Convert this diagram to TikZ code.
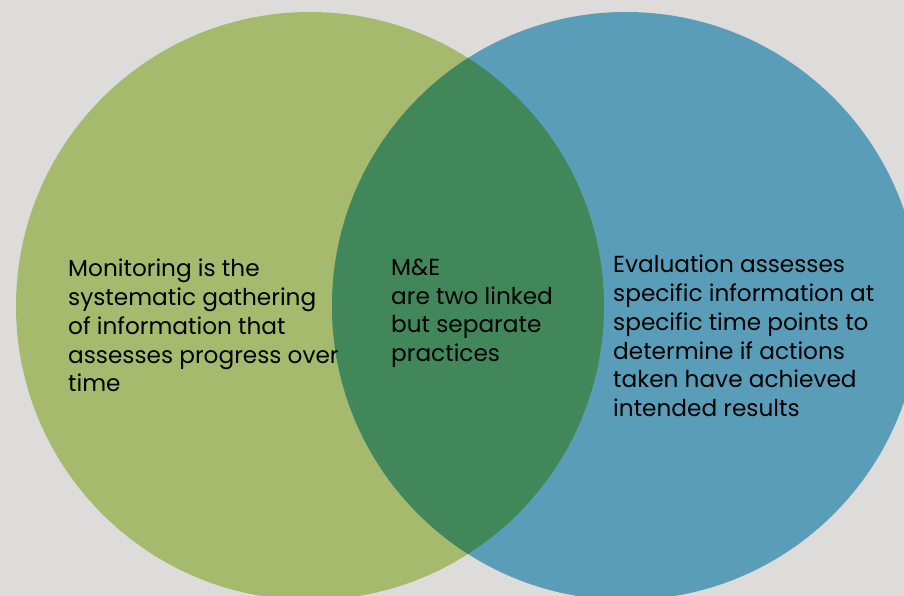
\documentclass[tikz,border=0pt]{standalone}
\usepackage{fontspec}
\setmainfont{Poppins}
\definecolor{bg}{HTML}{DDDCDA}
\definecolor{lgreen}{HTML}{A6BA6D}
\definecolor{lblue}{HTML}{5A9DB8}
\definecolor{dgreen}{HTML}{428759}
\begin{document}
\begin{tikzpicture}[x=1pt,y=-1pt,
  txt/.style={anchor=north west,inner sep=0pt,align=left,text=black,
    font=\fontsize{23.2}{28.9}\selectfont}]
\useasboundingbox (0,0) rectangle (904,596);
\fill[bg] (0,0) rectangle (904,596);
\begin{scope}
\clip (0,0) rectangle (904,596);
\fill[lgreen] (310,306) circle[radius=294];
\fill[lblue] (626,306) circle[radius=294];
\begin{scope}
\clip (310,306) circle[radius=294];
\fill[dgreen] (626,306) circle[radius=294];
\end{scope}
\end{scope}
\node[txt] (mon) at (68,258.5) {Monitoring is the\\systematic gathering\\of information that\\assesses progress over\\time};
\node[txt] (me) at (391,258.5) {M\&E\\are two linked\\but separate\\practices};
\node[txt] (eval) at (613,254.5) {Evaluation assesses\\specific information at\\specific time points to\\determine if actions\\taken have achieved\\intended results};
\end{tikzpicture}
\end{document}
